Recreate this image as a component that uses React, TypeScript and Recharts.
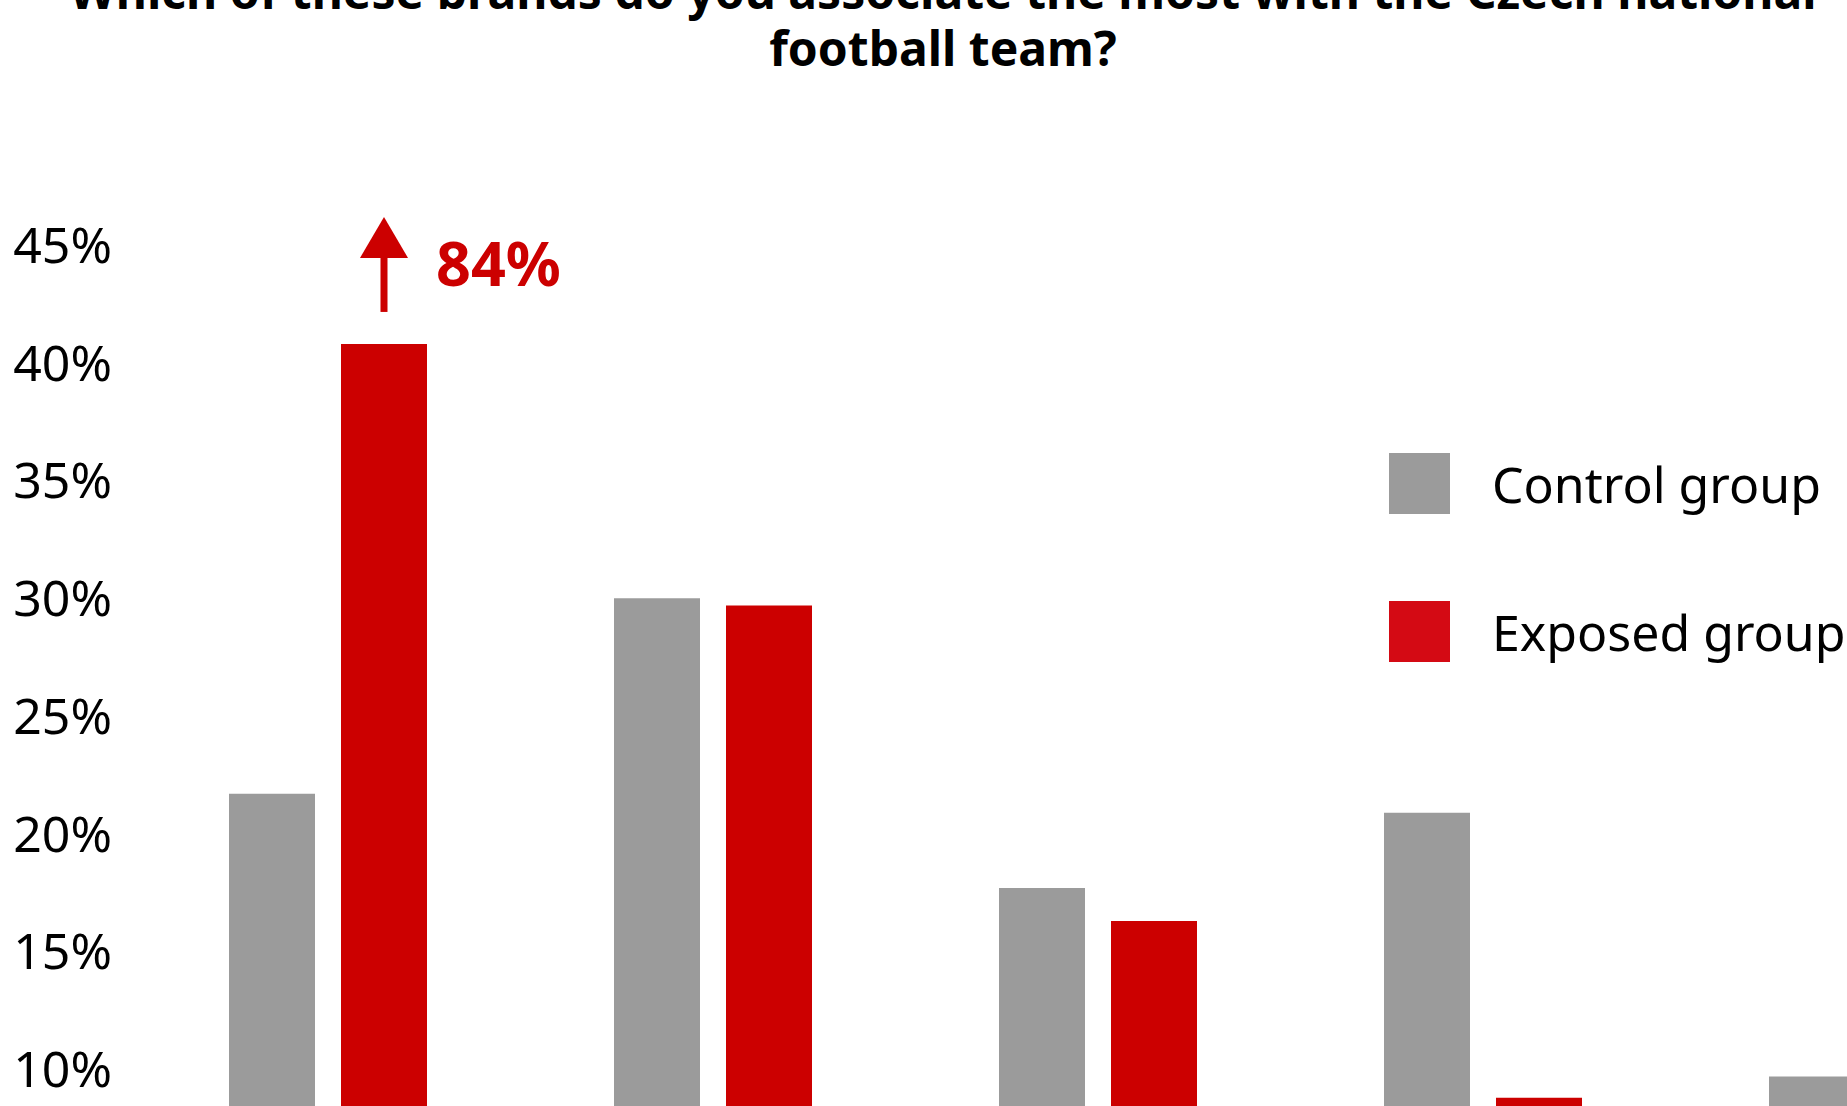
import React from 'react';
import { BarChart, Bar, XAxis, YAxis, Legend, LabelList } from 'recharts';

const categories = ['Brand 1', 'Brand 2', 'Brand 3', 'Brand 4', 'Brand 5'];
const controlValues = [21.7, 30.0, 17.7, 20.9, 9.7];
const exposedValues = [84, 29.7, 16.3, 8.8, 4.0];
const exposedCap = 40.8;
const yTicks = [0, 5, 10, 15, 20, 25, 30, 35, 40, 45];
const seriesNames = ['Control group', 'Exposed group'];
const titleLines = [
  'Which of these brands do you associate the most with the Czech national',
  'football team?',
];

const GRAY = '#9b9b9b';
const RED = '#cc0000';
const LEGEND_COLORS = ['#9b9b9b', '#d40a14'];
const FONT = '"Noto Sans", sans-serif';

const data = categories.map((c, i) => ({
  name: c,
  control: controlValues[i],
  exposed: Math.min(exposedValues[i], exposedCap),
}));

const renderCallout = (props: any) => {
  const { x, y, width, index } = props;
  if (exposedValues[index] <= exposedCap) return null;
  const cx = Number(x) + Number(width) / 2;
  const top = Number(y);
  return (
    <g>
      <rect x={cx - 3.5} y={top - 87} width={7} height={55} fill={RED} />
      <polygon points={`${cx},${top - 127} ${cx - 24},${top - 86} ${cx + 24},${top - 86}`} fill={RED} />
      <text x={cx + 52} y={top - 58} fill={RED} fontSize={61} fontWeight={700} fontFamily={FONT}>
        {`${exposedValues[index]}%`}
      </text>
    </g>
  );
};

const renderLegend = (props: any) => {
  const payload = props.payload || [];
  return (
    <div>
      {payload.map((entry: any, i: number) => (
        <div key={i} style={{ display: 'flex', alignItems: 'center', height: 61, marginBottom: i === 0 ? 87 : 0 }}>
          <div style={{ width: 61, height: 61, background: LEGEND_COLORS[i] }} />
          <span style={{ marginLeft: 42, fontSize: 50, fontFamily: FONT, color: '#000', whiteSpace: 'nowrap' }}>
            {entry.value}
          </span>
        </div>
      ))}
    </div>
  );
};

export default function App() {
  return (
    <div style={{ position: 'fixed', left: 0, top: 0, width: 1847, height: 1106, overflow: 'hidden', background: '#fff' }}>
      <div style={{ position: 'absolute', left: 0, top: 0 }}>
        <BarChart
          width={2068}
          height={1400}
          data={data}
          margin={{ top: 245, right: 8, bottom: 95, left: 10 }}
          barSize={86}
          barGap={26}
        >
          <XAxis dataKey="name" hide />
          <YAxis
            type="number"
            domain={[0, 45]}
            ticks={yTicks}
            tickFormatter={(v: number) => `${v}%`}
            axisLine={false}
            tickLine={false}
            width={125}
            tickMargin={17}
            tick={{ fill: '#000', fontSize: 50, fontFamily: FONT }}
            allowDataOverflow
          />
          <Legend
            content={renderLegend}
            layout="vertical"
            align="center"
            verticalAlign="middle"
            wrapperStyle={{ top: 453, left: 1389, width: 700 }}
          />
          <Bar dataKey="control" name={seriesNames[0]} fill={GRAY} isAnimationActive={false} />
          <Bar dataKey="exposed" name={seriesNames[1]} fill={RED} isAnimationActive={false}>
            <LabelList dataKey="exposed" content={renderCallout} />
          </Bar>
        </BarChart>
      </div>
      <div
        style={{
          position: 'absolute',
          left: 0,
          top: -38,
          width: 1886,
          textAlign: 'center',
          fontFamily: FONT,
          fontWeight: 700,
          fontSize: 48,
          lineHeight: '57px',
          color: '#000',
          whiteSpace: 'nowrap',
        }}
      >
        {titleLines.map((l, i) => (
          <div key={i}>{l}</div>
        ))}
      </div>
    </div>
  );
}
